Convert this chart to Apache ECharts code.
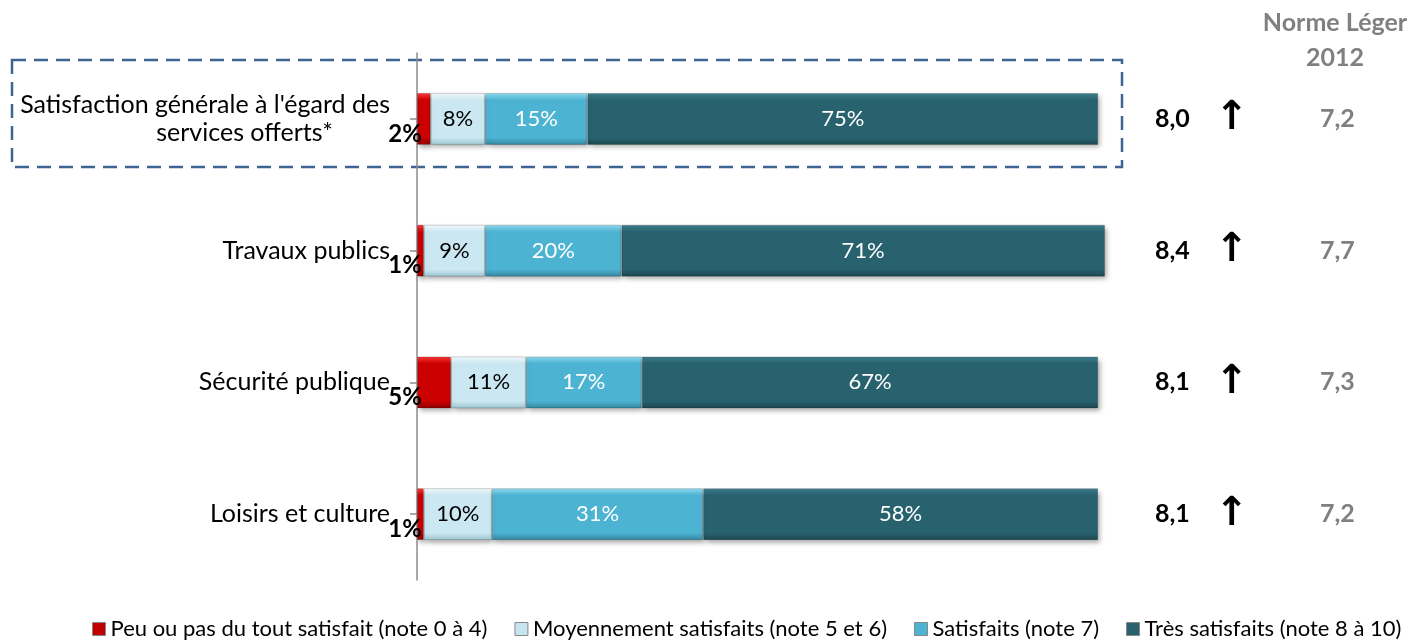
<!DOCTYPE html>
<html><head><meta charset="utf-8">
<script src="https://cdn.jsdelivr.net/npm/echarts@6/dist/echarts.min.js"></script>
<style>html,body{margin:0;padding:0;background:#fff}#c{width:1423px;height:642px}</style>
</head><body><div id="c"></div>
<script>
const categories = ["Satisfaction générale à l'égard des services offerts*", "Travaux publics", "Sécurité publique", "Loisirs et culture"];
const seriesNames = ["Peu ou pas du tout satisfait (note 0 à 4)", "Moyennement satisfaits (note 5 et 6)", "Satisfaits (note 7)", "Très satisfaits (note 8 à 10)"];
const peu = [2, 1, 5, 1];
const moyen = [8, 9, 11, 10];
const satisfaits = [15, 20, 17, 31];
const tres = [75, 71, 67, 58];
const moyennes = ["8,0", "8,4", "8,1", "8,1"];
const normes = ["7,2", "7,7", "7,3", "7,2"];
const normeTitle = "Norme Léger\n2012";

const FONT = 'Lato, "Open Sans", sans-serif';
function grad(top, base, bottom) {
  return new echarts.graphic.LinearGradient(0, 0, 0, 1, [
    {offset: 0, color: top}, {offset: 0.14, color: base},
    {offset: 0.86, color: base}, {offset: 1, color: bottom}]);
}
const fills = [
  grad('#ff3a3a', '#cc0000', '#8a0000'),
  grad('#f4fbfe', '#cbe8f2', '#9cc4d0'),
  grad('#8fdcf0', '#4db3d3', '#35869e'),
  grad('#3f7f90', '#28626f', '#1b4650')
];
const legendColors = ['#c00000', '#c6e5ef', '#4db3d3', '#28626f'];
const values = [peu, moyen, satisfaits, tres];
const labelColors = ['#000', '#000', '#fff', '#fff'];

const chart = echarts.init(document.getElementById('c'));
const series = values.map((arr, i) => ({
  name: seriesNames[i],
  type: 'bar',
  stack: 'total',
  barWidth: 52,
  data: arr,
  itemStyle: {
    color: fills[i],
    borderColor: 'rgba(0,0,0,0.18)',
    borderWidth: 1,
    shadowColor: 'rgba(0,0,0,0.35)',
    shadowBlur: 5,
    shadowOffsetX: 2,
    shadowOffsetY: 3
  },
  label: i === 0 ? {
    show: true,
    position: [-12, 41],
    align: 'center',
    verticalAlign: 'middle',
    formatter: '{c}%',
    fontFamily: FONT,
    fontSize: 24,
    fontWeight: 'bold',
    color: '#000'
  } : {
    show: true,
    position: 'inside',
    formatter: '{c}%',
    fontFamily: FONT,
    fontSize: 22,
    color: labelColors[i]
  }
}));

chart.setOption({
  animation: false,
  title: {
    text: normeTitle,
    left: 1330, top: 0, textAlign: 'center',
    textStyle: {fontFamily: FONT, fontSize: 25, fontWeight: 'bold', color: '#808080', lineHeight: 35}
  },
  grid: {left: 417, right: 318, top: 53, bottom: 62, containLabel: false},
  legend: {
    bottom: 0, left: 92, width: 1331,
    itemWidth: 13, itemHeight: 13, itemGap: 27, padding: [5, 0, 2, 0],
    icon: 'rect',
    textStyle: {fontFamily: FONT, fontSize: 22, color: '#000'},
    data: seriesNames.map((n, i) => ({name: n, itemStyle: {color: legendColors[i], borderColor: '#888', borderWidth: 1}}))
  },
  xAxis: {type: 'value', min: 0, max: 101, show: false, splitLine: {show: false}},
  yAxis: [{
    type: 'category',
    data: categories,
    inverse: true,
    axisLine: {show: true, lineStyle: {color: '#8c8c8c', width: 1.5}},
    axisTick: {show: true, alignWithLabel: true, length: 7, lineStyle: {color: '#8c8c8c', width: 1.5}},
    axisLabel: {
      margin: 27,
      fontFamily: FONT, fontSize: 25, color: '#000', align: 'right',
      formatter: (v, idx) => idx === 0
        ? '{a|Satisfaction générale à l\'égard des}\n{b|services offerts*}'
        : v,
      rich: {
        a: {fontFamily: FONT, fontSize: 25, color: '#000', lineHeight: 28},
        b: {fontFamily: FONT, fontSize: 25, color: '#000', lineHeight: 28, padding: [0, 57, 0, 0]}
      }
    }
  }, {
    type: 'category',
    data: categories,
    inverse: true,
    position: 'right',
    axisLine: {show: false},
    axisTick: {show: false},
    axisLabel: {
      margin: 50,
      align: 'left',
      formatter: (v, idx) => '{v|' + moyennes[idx] + '}{a|↑}{n|' + normes[idx] + '}',
      rich: {
        v: {fontFamily: FONT, fontSize: 25, fontWeight: 'bold', color: '#000', width: 60},
        a: {fontFamily: '"DejaVu Sans"', fontSize: 40, fontWeight: 'bold', color: '#000', width: 105},
        n: {fontFamily: FONT, fontSize: 25, fontWeight: 'bold', color: '#808080'}
      }
    }
  }],
  graphic: [{
    type: 'rect',
    shape: {x: 12, y: 60, width: 1110, height: 107},
    style: {fill: 'none', stroke: '#3f6592', lineWidth: 2.5, lineDash: [14, 8]},
    z: 0
  }],
  series: series
});
</script></body></html>
